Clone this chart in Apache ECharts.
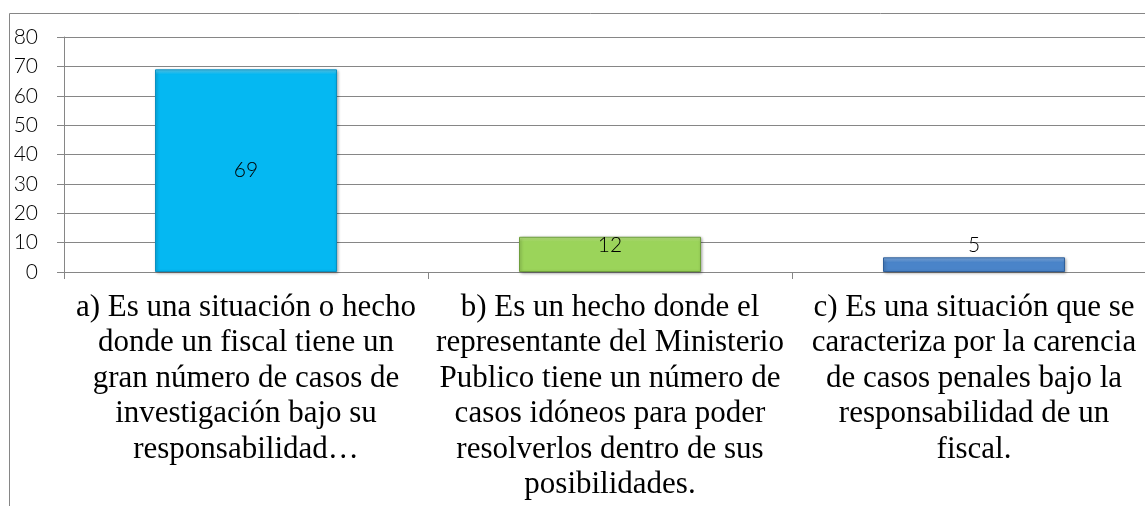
<!DOCTYPE html>
<html>
<head>
<meta charset="utf-8">
<script src="https://cdn.jsdelivr.net/npm/echarts@6/dist/echarts.min.js"></script>
<style>
  html, body { margin: 0; padding: 0; background: #fff; overflow: hidden; }
  #chart { width: 1170px; height: 506px; }
</style>
</head>
<body>
<div id="chart"></div>
<script>
// categorías del eje x (con saltos de línea como en el original)
const categories = [
  'a) Es una situación o hecho\ndonde un fiscal tiene un\ngran número de casos de\ninvestigación bajo su\nresponsabilidad…',
  'b) Es un hecho donde el\nrepresentante del Ministerio\nPublico tiene un número de\ncasos idóneos para poder\nresolverlos dentro de sus\nposibilidades.',
  'c) Es una situación que se\ncaracteriza por la carencia\nde casos penales bajo la\nresponsabilidad de un\nfiscal.'
];
const values = [69, 12, 5];
const barColors = ['#05b8f2', '#9bd45a', '#4a84c9'];
const barLight = ['#5fd8ff', '#c4ef8a', '#8ab8ee'];
const barBorders = ['#0a8fc0', '#6e9e3c', '#2f5f9a'];
const labelPositions = ['inside', 'insideTop', 'top'];

const chart = echarts.init(document.getElementById('chart'));

const option = {
  animation: false,
  graphic: [{
    type: 'rect',
    shape: { x: 9.5, y: 13.5, width: 1300, height: 700 },
    style: { fill: 'none', stroke: '#868686', lineWidth: 1 },
    silent: true
  }],
  grid: { left: 64, top: 37, right: 14, bottom: 234 },
  xAxis: {
    type: 'category',
    data: categories,
    axisLine: { lineStyle: { color: '#868686', width: 1 } },
    axisTick: { show: true, length: 7, lineStyle: { color: '#868686' } },
    axisLabel: {
      interval: 0,
      margin: 18,
      color: '#000',
      fontFamily: '"Liberation Serif", "Times New Roman", serif',
      fontSize: 31,
      lineHeight: 35.5,
      align: 'center'
    }
  },
  yAxis: {
    type: 'value',
    min: 0,
    max: 80,
    interval: 10,
    axisLine: { show: true, lineStyle: { color: '#868686', width: 1 } },
    axisTick: { show: true, length: 7, lineStyle: { color: '#868686' } },
    splitLine: { lineStyle: { color: '#868686', width: 1 } },
    axisLabel: {
      margin: 26,
      color: '#000',
      fontFamily: 'Lato, "Noto Sans", sans-serif',
      fontWeight: 300,
      fontSize: 21
    }
  },
  series: [{
    type: 'bar',
    barWidth: '50%',
    data: values.map((v, i) => ({
      value: v,
      itemStyle: {
        color: {
          type: 'linear', x: 0, y: 0, x2: 0, y2: 1,
          colorStops: [
            { offset: 0, color: barLight[i] },
            { offset: Math.min(0.5, 5 / (v * 2.94)), color: barColors[i] },
            { offset: 1, color: barColors[i] }
          ]
        },
        borderColor: barBorders[i],
        borderWidth: 1,
        shadowColor: 'rgba(0,0,0,0.35)',
        shadowBlur: 3,
        shadowOffsetX: 1,
        shadowOffsetY: 1
      },
      label: {
        position: labelPositions[i],
        distance: i === 1 ? -2 : 2
      }
    })),
    label: {
      show: true,
      color: '#000',
      fontFamily: 'Lato, "Noto Sans", sans-serif',
      fontWeight: 300,
      fontSize: 21
    }
  }]
};

chart.setOption(option);
</script>
</body>
</html>
